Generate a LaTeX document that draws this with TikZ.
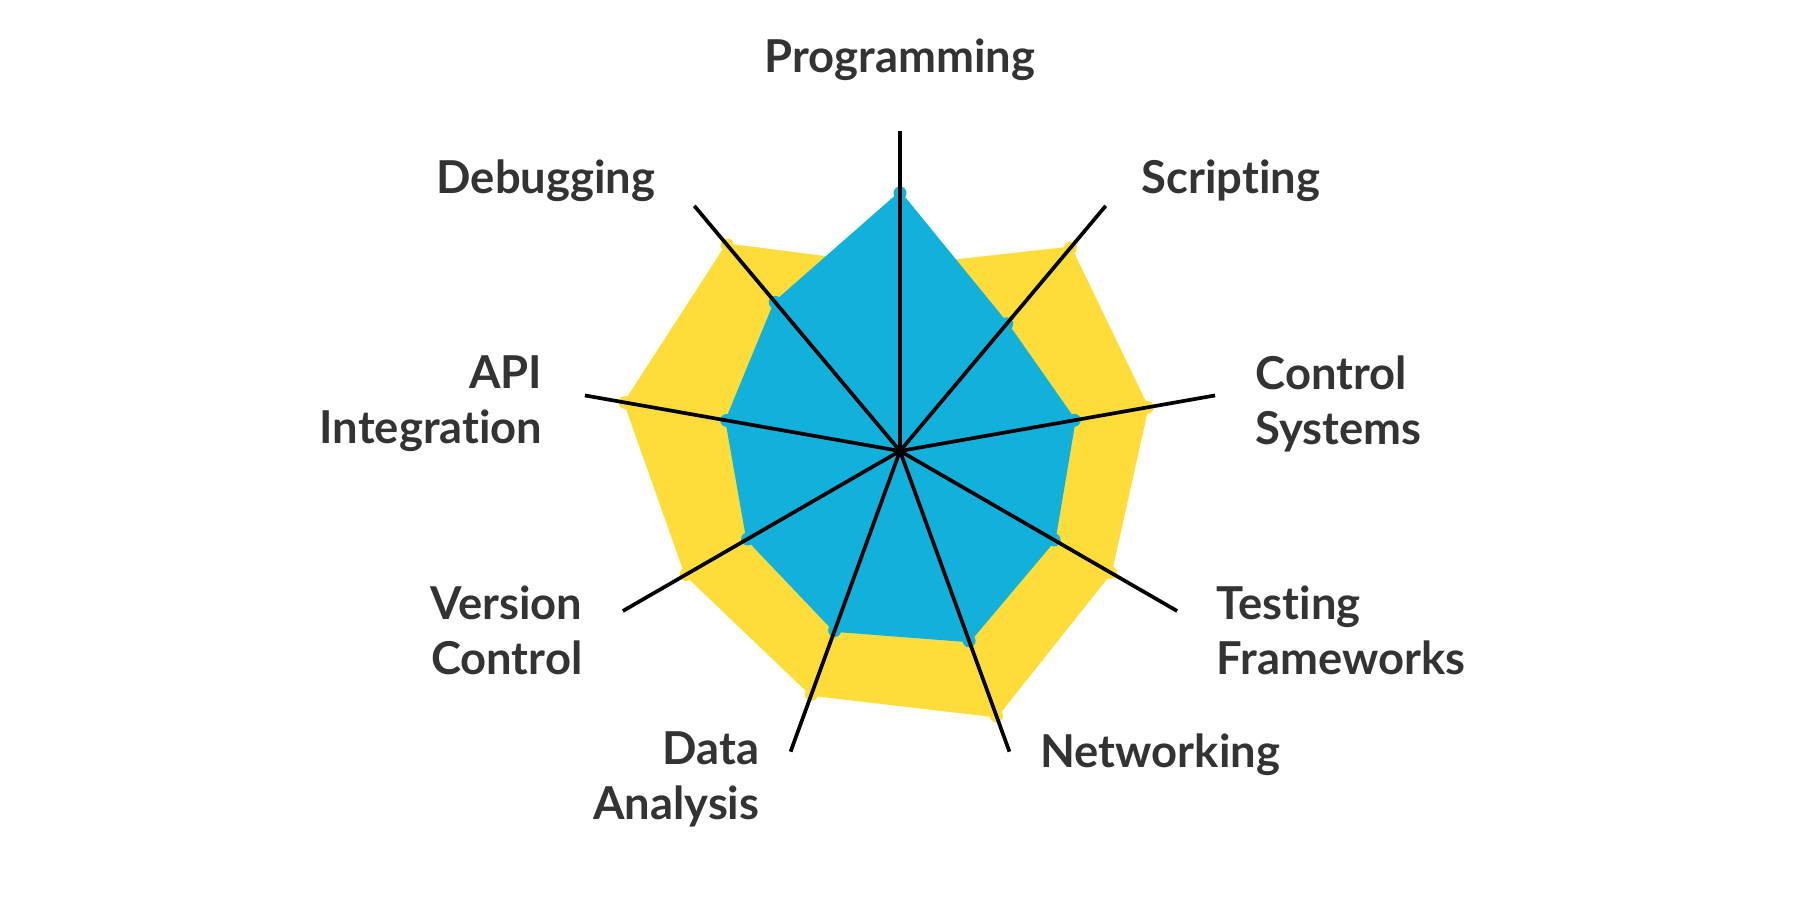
\documentclass[tikz,border=0pt]{standalone}
\usepackage{fontspec}
\setmainfont{Lato}[Ligatures=NoCommon]
\usetikzlibrary{calc}
\definecolor{skyc}{HTML}{12B1DC}
\definecolor{sunc}{HTML}{FEDD3A}
\definecolor{txtc}{HTML}{333333}
\begin{document}
\begin{tikzpicture}[
  lab/.style={font=\fontsize{12.9}{15.6}\selectfont\bfseries, text=txtc, inner sep=0pt},
  spoke/.style={draw=black, line width=1.05pt, line cap=butt},
  area/.style={line width=0.8pt, line join=round}
]
\useasboundingbox[fill=white] (0,0) rectangle (18,9);
\coordinate (O) at (9.00,4.49);
\foreach \i/\a/\rb/\ry in {1/90/2.58/1.84, 2/50/1.66/2.65, 3/10/1.77/2.51, 4/-30/1.78/2.43, 5/-70/2.02/2.82, 6/-110/1.91/2.59, 7/-150/1.76/2.47, 8/170/1.76/2.79, 9/130/1.94/2.69}{
  \coordinate (b\i) at ($(O)+(\a:\rb)$);
  \coordinate (y\i) at ($(O)+(\a:\ry)$);
  \coordinate (s\i) at ($(O)+(\a:3.20)$);
}
\fill[area, fill=sunc, draw=sunc] (y1) -- (y2) -- (y3) -- (y4) -- (y5) -- (y6) -- (y7) -- (y8) -- (y9) -- cycle;
\foreach \i in {1,...,9}{ \fill[sunc] (y\i) circle (0.065); }
\fill[area, fill=skyc, draw=skyc] (b1) -- (b2) -- (b3) -- (b4) -- (b5) -- (b6) -- (b7) -- (b8) -- (b9) -- cycle;
\foreach \i in {1,...,9}{ \fill[skyc] (b\i) circle (0.065); }
\foreach \i in {1,...,9}{ \draw[spoke] (O) -- (s\i); }
\node[lab, anchor=base] (lprog) at (9.00,8.27) {Programming};
\node[lab, anchor=base] (lscr) at (12.31,7.06) {Scripting};
\node[lab, anchor=base] (ldbg) at (5.46,7.06) {Debugging};
\node[lab, anchor=west, align=left] (lctl) at (12.55,4.96) {Control\\Systems};
\node[lab, anchor=east, align=right] (lapi) at (5.43,4.96) {API\\Integration};
\node[lab, anchor=west, align=left] (ltst) at (12.16,2.70) {Testing\\Frameworks};
\node[lab, anchor=east, align=right] (lver) at (5.83,2.70) {Version\\Control};
\node[lab, anchor=base west] (lnet) at (10.40,1.32) {Networking};
\node[lab, anchor=east, align=right] (ldat) at (7.60,1.21) {Data\\Analysis};
\end{tikzpicture}
\end{document}
